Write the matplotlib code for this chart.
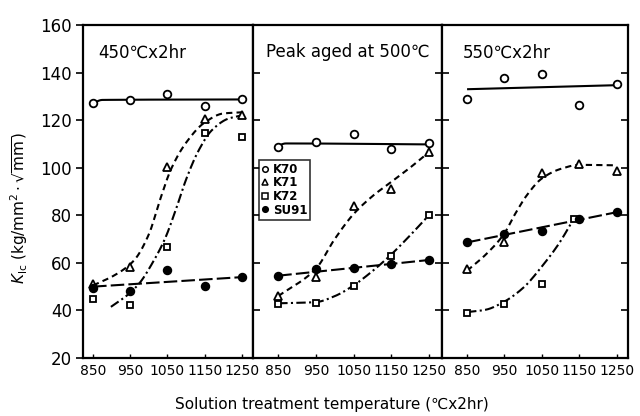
import numpy as np
import matplotlib
matplotlib.use("Agg")
import matplotlib.pyplot as plt
from matplotlib.lines import Line2D

plt.rcParams['font.family'] = ['DejaVu Sans']

# Solution treatment temperatures (deg C)
temps = [850, 950, 1050, 1150, 1250]
tick_labels = ["850", "950", "1050", "1150", "1250"]
panel_titles = ["450℃x2hr", "Peak aged at 500℃", "550℃x2hr"]
alloys = ["K70", "K71", "K72", "SU91"]

# Measured K_Ic values, one list per panel
k70 = [[127.2, 128.4, 131.2, 126.1, 128.7],
       [108.7, 110.8, 114.3, 107.7, 110.4],
       [128.8, 137.9, 139.6, 126.3, 135.4]]
k71 = [[51.3, 58.4, 100.2, 120.6, 122.0],
       [46.1, 53.9, 84.1, 91.2, 106.6],
       [57.4, 68.6, 97.7, 101.7, 98.8]]
k72_temps = [[850, 950, 1050, 1150, 1250],
             [850, 950, 1050, 1150, 1250],
             [850, 950, 1050, 1135]]
k72 = [[45.0, 42.3, 66.8, 114.7, 112.9],
       [42.6, 43.0, 50.3, 63.0, 80.2],
       [39.1, 42.9, 51.0, 78.5]]
su91 = [[49.4, 48.2, 57.0, 50.3, 54.0],
        [54.6, 57.6, 58.0, 59.5, 61.2],
        [68.6, 72.1, 73.3, 78.5, 81.3]]

# Hand-fitted trend curves: (temperature knots, K_Ic knots) per panel
k70_fit = [([850, 875, 1250], [127.2, 128.5, 128.7]),
           ([850, 870, 1250], [109.3, 110.2, 109.8]),
           ([850, 1250], [133.0, 134.7])]
k71_fit = [([850, 910, 960, 1000, 1030, 1060, 1100, 1150, 1200, 1250],
            [50.5, 55.0, 61.0, 72.0, 86.5, 99.5, 110.5, 119.0, 122.8, 123.3]),
           ([850, 950, 1000, 1050, 1100, 1150, 1200, 1250],
            [46.0, 57.5, 70.0, 80.5, 88.0, 94.0, 100.0, 106.5]),
           ([850, 900, 948, 980, 1010, 1050, 1100, 1150, 1250],
            [56.7, 63.5, 72.0, 81.0, 88.5, 95.5, 99.5, 101.2, 101.0])]
k72_fit = [([898, 945, 976, 1008, 1043, 1075, 1100, 1133, 1169, 1213, 1250],
            [41.5, 46.8, 51.7, 59.5, 70.0, 83.5, 95.0, 107.0, 115.7, 120.6, 122.0]),
           ([850, 950, 1000, 1050, 1100, 1150, 1200, 1250],
            [43.0, 43.5, 46.0, 50.5, 56.5, 63.5, 71.5, 80.0]),
           ([850, 900, 945, 1000, 1050, 1095, 1135],
            [39.3, 40.3, 43.3, 49.5, 58.5, 68.0, 78.5])]
su91_fit = [([850, 1250], [50.0, 54.0]),
            ([850, 1250], [54.6, 61.2]),
            ([850, 1250], [68.6, 81.3])]

x_limits = [(823, 1280), (783, 1285), (783, 1280)]
title_x = [0.088, 0.07, 0.113]


def smooth(xk, yk, n=300):
    """Monotone cubic (PCHIP) curve through the knots."""
    xk = np.asarray(xk, float)
    yk = np.asarray(yk, float)
    if len(xk) == 2:
        return xk, yk
    h = np.diff(xk)
    d = np.diff(yk) / h
    m = np.zeros_like(xk)
    m[0], m[-1] = d[0], d[-1]
    for k in range(1, len(xk) - 1):
        if d[k - 1] * d[k] <= 0:
            m[k] = 0.0
        else:
            w1 = 2 * h[k] + h[k - 1]
            w2 = h[k] + 2 * h[k - 1]
            m[k] = (w1 + w2) / (w1 / d[k - 1] + w2 / d[k])
    xs = np.linspace(xk[0], xk[-1], n)
    idx = np.clip(np.searchsorted(xk, xs) - 1, 0, len(xk) - 2)
    t = (xs - xk[idx]) / h[idx]
    h00 = 2 * t**3 - 3 * t**2 + 1
    h10 = t**3 - 2 * t**2 + t
    h01 = -2 * t**3 + 3 * t**2
    h11 = t**3 - t**2
    ys = (h00 * yk[idx] + h10 * h[idx] * m[idx]
          + h01 * yk[idx + 1] + h11 * h[idx] * m[idx + 1])
    return xs, ys


fig = plt.figure(figsize=(6.4, 4.16), dpi=100)
gs = fig.add_gridspec(1, 3, width_ratios=[170, 189, 186], wspace=0,
                      left=83 / 640, right=628 / 640,
                      bottom=1 - 358 / 416, top=1 - 25 / 416)
axes = [fig.add_subplot(gs[0, i]) for i in range(3)]

lw = 1.5
styles = {
    "K70": dict(ls="-", marker="o", mfc="white"),
    "K71": dict(ls=(0, (3, 2)), marker="^", mfc="white"),
    "K72": dict(ls=(0, (4.5, 1.6, 1, 1.6)), marker="s", mfc="white"),
    "SU91": dict(ls=(0, (6.5, 2)), marker="o", mfc="black"),
}
msizes = {"K70": 5.5, "K71": 5.5, "K72": 5.0, "SU91": 5.5}

for i, ax in enumerate(axes):
    fits = {"K70": k70_fit[i], "K71": k71_fit[i],
            "K72": k72_fit[i], "SU91": su91_fit[i]}
    pts = {"K70": (temps, k70[i]), "K71": (temps, k71[i]),
           "K72": (k72_temps[i], k72[i]), "SU91": (temps, su91[i])}
    for name in alloys:
        xs, ys = smooth(*fits[name])
        ax.plot(xs, ys, color="black", lw=lw, ls=styles[name]["ls"],
                zorder=2, solid_capstyle="butt", dash_capstyle="butt")
    for name in alloys:
        px, py = pts[name]
        ax.plot(px, py, ls="none", marker=styles[name]["marker"],
                ms=msizes[name], mfc=styles[name]["mfc"], mec="black",
                mew=1.3, zorder=3)

    ax.set_xlim(*x_limits[i])
    ax.set_ylim(20, 160)
    ax.set_xticks(temps)
    ax.set_xticklabels(tick_labels, fontsize=10)
    ax.set_yticks(np.arange(20, 161, 20))
    for s in ax.spines.values():
        s.set_linewidth(1.6)
    ax.tick_params(axis="x", direction="in", length=3, width=1, pad=4)
    ax.tick_params(axis="y", direction="in", length=5, width=1.2,
                   left=True, right=True)
    if i == 0:
        ax.tick_params(axis="y", which="both", direction="out",
                       labelsize=12, pad=3)
    else:
        ax.tick_params(axis="y", labelleft=False)
    ax.text(title_x[i], 0.945, panel_titles[i],
            transform=ax.transAxes, fontsize=12, va="top", ha="left")

# Legend inside the middle panel
handles = [Line2D([], [], ls="none", marker=styles[n]["marker"],
                  ms=4, mfc=styles[n]["mfc"], mec="black", mew=1.1)
           for n in alloys]
leg = axes[1].legend(handles, alloys, loc="upper left",
                     bbox_to_anchor=(0.03, 0.595), frameon=True,
                     fancybox=False, handlelength=0.6, handletextpad=0.35,
                     borderpad=0.25, labelspacing=0.05, borderaxespad=0,
                     prop=dict(size=8.5, weight="bold"))
leg.get_frame().set_edgecolor("black")
leg.get_frame().set_linewidth(1.2)

fig.text(332 / 640, 1 - 404 / 416,
         "Solution treatment temperature (℃x2hr)",
         ha="center", va="center", fontsize=11)
fig.text(19 / 640, 1 - 208 / 416,
         r"$K_{\mathrm{Ic}}$ (kg/mm$^{2}\cdot\sqrt{\mathrm{mm}}$)",
         rotation=90, ha="center", va="center", fontsize=11)

fig.savefig("out.png", dpi=100)
